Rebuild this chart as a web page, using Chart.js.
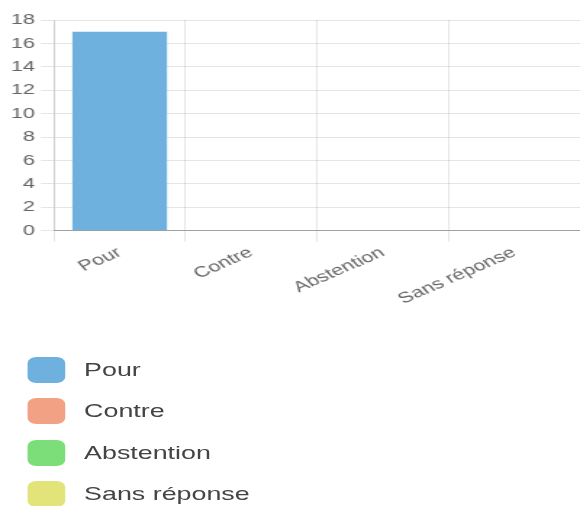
<!DOCTYPE html>
<html>
<head>
<meta charset="utf-8">
<script src="https://cdn.jsdelivr.net/npm/chart.js@4"></script>
<style>
  html, body { margin: 0; padding: 0; background: #fff; overflow: hidden; }
  #wrap {
    width: 400px;
    transform: scaleX(1.45);
    transform-origin: 0 0;
    font-family: 'Liberation Sans', Arial, Helvetica, sans-serif;
  }
  #chartBox { position: relative; width: 400px; height: 310px; }
  #legend { list-style: none; margin: 47px 0 0 0; padding: 0 0 0 19px; }
  #legend li { display: flex; align-items: center; height: 26px; margin-bottom: 15.3px; color: #444; font-size: 18.5px; }
  #legend .box { width: 26px; height: 26px; border-radius: 6px; margin-right: 13px; flex: none; }
</style>
</head>
<body>
<div id="wrap">
  <div id="chartBox"><canvas id="voteChart"></canvas></div>
  <ul id="legend"></ul>
</div>
<script>
const categories = ['Pour', 'Contre', 'Abstention', 'Sans réponse'];
const votes = [17, 0, 0, 0];
const colors = ['#6fb1de', '#f2a185', '#7cde79', '#e2e47a'];
const yTicks = { min: 0, max: 18, step: 2 };

const ctx = document.getElementById('voteChart');

const chart = new Chart(ctx, {
    type: 'bar',
    data: {
        labels: categories,
        datasets: [{
            label: 'Votes',
            data: votes,
            backgroundColor: colors,
            borderWidth: 0
        }]
    },
    options: {
        responsive: true,
        maintainAspectRatio: false,
        animation: false,
        layout: { padding: { top: 20, left: 3.5, right: 0, bottom: 0 } },
        scales: {
            x: {
                ticks: {
                    color: '#666',
                    padding: 2,
                    font: { size: 15, family: "'Liberation Sans', Arial, sans-serif" },
                    minRotation: 32,
                    maxRotation: 32
                },
                grid: { color: 'rgba(0,0,0,0.1)', tickLength: 11 },
                border: { color: 'rgba(0,0,0,0.3)' }
            },
            y: {
                min: yTicks.min,
                max: yTicks.max,
                ticks: {
                    stepSize: yTicks.step,
                    color: '#666',
                    padding: 4,
                    font: { size: 15, family: "'Liberation Sans', Arial, sans-serif" }
                },
                grid: { color: 'rgba(0,0,0,0.1)', tickLength: 9 },
                border: { color: 'rgba(0,0,0,0.1)' }
            }
        },
        plugins: {
            legend: { display: false },
            tooltip: { enabled: false }
        }
    }
});

// HTML legend, one row per category
const legendEl = document.getElementById('legend');
categories.forEach((name, i) => {
    const li = document.createElement('li');
    const box = document.createElement('span');
    box.className = 'box';
    box.style.background = colors[i];
    li.appendChild(box);
    li.appendChild(document.createTextNode(name));
    legendEl.appendChild(li);
});
</script>
</body>
</html>
